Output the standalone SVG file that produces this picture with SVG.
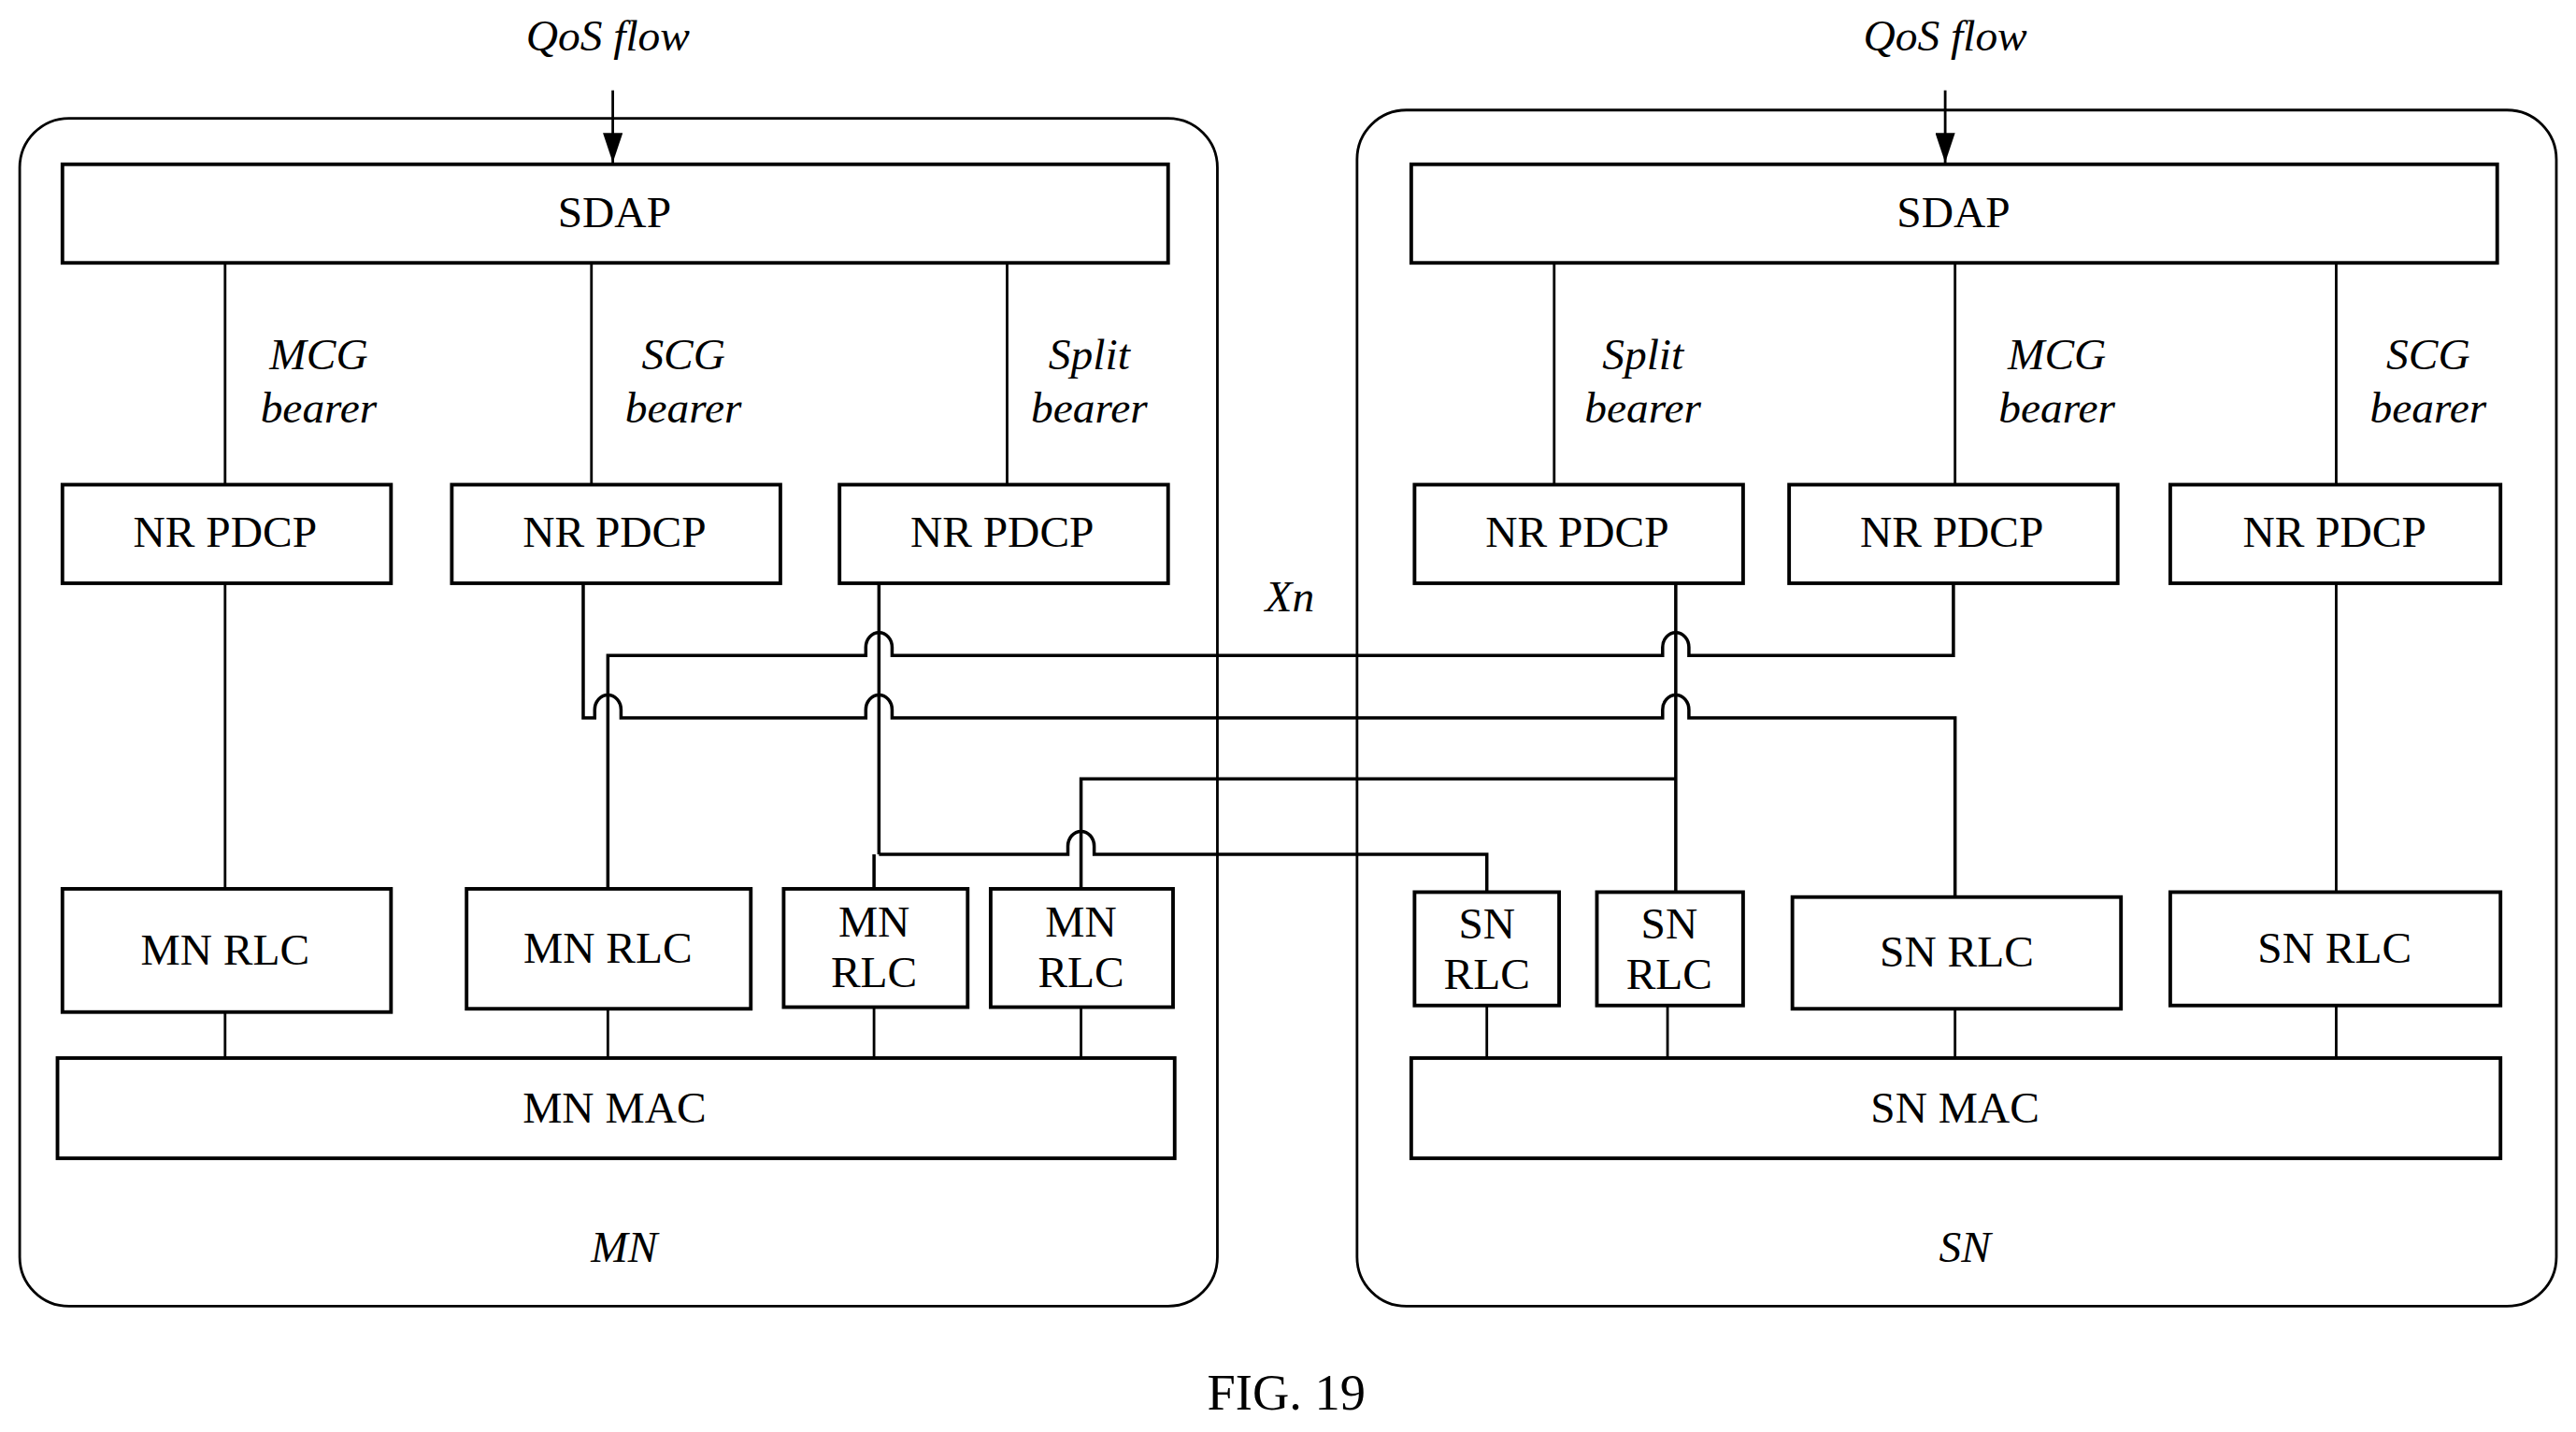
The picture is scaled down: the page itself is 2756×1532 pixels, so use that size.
<svg xmlns="http://www.w3.org/2000/svg" width="2756" height="1532" viewBox="0 0 2756 1532">
<style>
.b{fill:#fff;stroke:#000;stroke-width:2.2}
.c{fill:none;stroke:#000;stroke-width:1.6}
.w{fill:none;stroke:#000;stroke-width:2}
.t{font-family:"Liberation Serif",serif;font-size:27px;text-anchor:middle;fill:#000}
.i{font-family:"Liberation Serif",serif;font-size:27px;font-style:italic;text-anchor:middle;fill:#000}
</style>
<defs><marker id="ar" markerWidth="18" markerHeight="12" refX="18" refY="6" orient="auto" markerUnits="userSpaceOnUse" viewBox="0 0 18 12"><path d="M0,0 L18,6 L0,12Z" fill="#000"/></marker></defs>
<rect width="2756" height="1532" fill="#fff"/>
<g transform="scale(1.7577)">
<g id="MN"><rect class="c" x="12" y="72" width="729" height="723" rx="30"/><text class="i" x="380" y="768">MN</text></g>
<g id="SN"><rect class="c" x="826" y="67" width="730" height="728" rx="30"/><text class="i" x="1196" y="768">SN</text></g>
<g id="qos1"><text class="i" x="370" y="31">QoS flow</text></g>
<g id="qos2"><text class="i" x="1184" y="31">QoS flow</text></g>
<g id="mnsdap"><rect class="b" x="38" y="100" width="673" height="60"/><text class="t" x="374" y="138">SDAP</text></g>
<g id="snsdap"><rect class="b" x="859" y="100" width="661" height="60"/><text class="t" x="1189" y="138">SDAP</text></g>
<g id="mnp1"><rect class="b" x="38" y="295" width="200" height="60"/><text class="t" x="137" y="333">NR PDCP</text></g>
<g id="mnp2"><rect class="b" x="275" y="295" width="200" height="60"/><text class="t" x="374" y="333">NR PDCP</text></g>
<g id="mnp3"><rect class="b" x="511" y="295" width="200" height="60"/><text class="t" x="610" y="333">NR PDCP</text></g>
<g id="snp1"><rect class="b" x="861" y="295" width="200" height="60"/><text class="t" x="960" y="333">NR PDCP</text></g>
<g id="snp2"><rect class="b" x="1089" y="295" width="200" height="60"/><text class="t" x="1188" y="333">NR PDCP</text></g>
<g id="snp3"><rect class="b" x="1321" y="295" width="201" height="60"/><text class="t" x="1421" y="333">NR PDCP</text></g>
<g id="mnr1"><rect class="b" x="38" y="541" width="200" height="75"/><text class="t" x="137" y="587">MN RLC</text></g>
<g id="mnr2"><rect class="b" x="284" y="541" width="173" height="73"/><text class="t" x="370" y="586">MN RLC</text></g>
<g id="mnr3"><rect class="b" x="477" y="541" width="112" height="72"/><text class="t" x="532" y="570">MN</text><text class="t" x="532" y="601">RLC</text></g>
<g id="mnr4"><rect class="b" x="603" y="541" width="111" height="72"/><text class="t" x="658" y="570">MN</text><text class="t" x="658" y="601">RLC</text></g>
<g id="snr1"><rect class="b" x="861" y="543" width="88" height="69"/><text class="t" x="905" y="571">SN</text><text class="t" x="905" y="602">RLC</text></g>
<g id="snr2"><rect class="b" x="972" y="543" width="89" height="69"/><text class="t" x="1016" y="571">SN</text><text class="t" x="1016" y="602">RLC</text></g>
<g id="snr3"><rect class="b" x="1091" y="546" width="200" height="68"/><text class="t" x="1191" y="588">SN RLC</text></g>
<g id="snr4"><rect class="b" x="1321" y="543" width="201" height="69"/><text class="t" x="1421" y="586">SN RLC</text></g>
<g id="mnmac"><rect class="b" x="35" y="644" width="680" height="61"/><text class="t" x="374" y="683">MN MAC</text></g>
<g id="snmac"><rect class="b" x="859" y="644" width="663" height="61"/><text class="t" x="1190" y="683">SN MAC</text></g>
<g id="labels">
<text class="i" x="194" y="225">MCG</text><text class="i" x="194" y="257">bearer</text>
<text class="i" x="416" y="225">SCG</text><text class="i" x="416" y="257">bearer</text>
<text class="i" x="663" y="225">Split</text><text class="i" x="663" y="257">bearer</text>
<text class="i" x="1000" y="225">Split</text><text class="i" x="1000" y="257">bearer</text>
<text class="i" x="1252" y="225">MCG</text><text class="i" x="1252" y="257">bearer</text>
<text class="i" x="1478" y="225">SCG</text><text class="i" x="1478" y="257">bearer</text>
<text class="i" x="785" y="372">Xn</text>
<text class="t" x="783" y="858" style="font-size:31px">FIG. 19</text>
</g>
<g id="connectors">
<line class="c" x1="373" y1="55" x2="373" y2="99" marker-end="url(#ar)"/>
<line class="c" x1="1184" y1="55" x2="1184" y2="99" marker-end="url(#ar)"/>
<path class="c" d="M137 160V295M360 160V295M613 160V295M946 160V295M1190 160V295M1422 160V295"/>
<path class="c" d="M137 355V541M1422 355V543"/>
<path class="c" d="M137 616V644M370 614V644M532 613V644M658 613V644M905 612V644M1015 612V644M1190 614V644M1422 612V644"/>
<path class="w" d="M355 355V437H362V432A8 9 0 0 1 378 432V437H527V432A8 9 0 0 1 543 432V437H1012V432A8 9 0 0 1 1028 432V437H1190V546"/>
<path class="w" d="M370 541V399H527V394A8 9 0 0 1 543 394V399H1012V394A8 9 0 0 1 1028 394V399H1189V355"/>
<path class="w" d="M535 355V520M532 520V541M535 520H650V515A8 9 0 0 1 666 515V520H905V543"/>
<path class="w" d="M1020 355V543M1020 474H658V541"/>
</g>
</g>
</svg>
